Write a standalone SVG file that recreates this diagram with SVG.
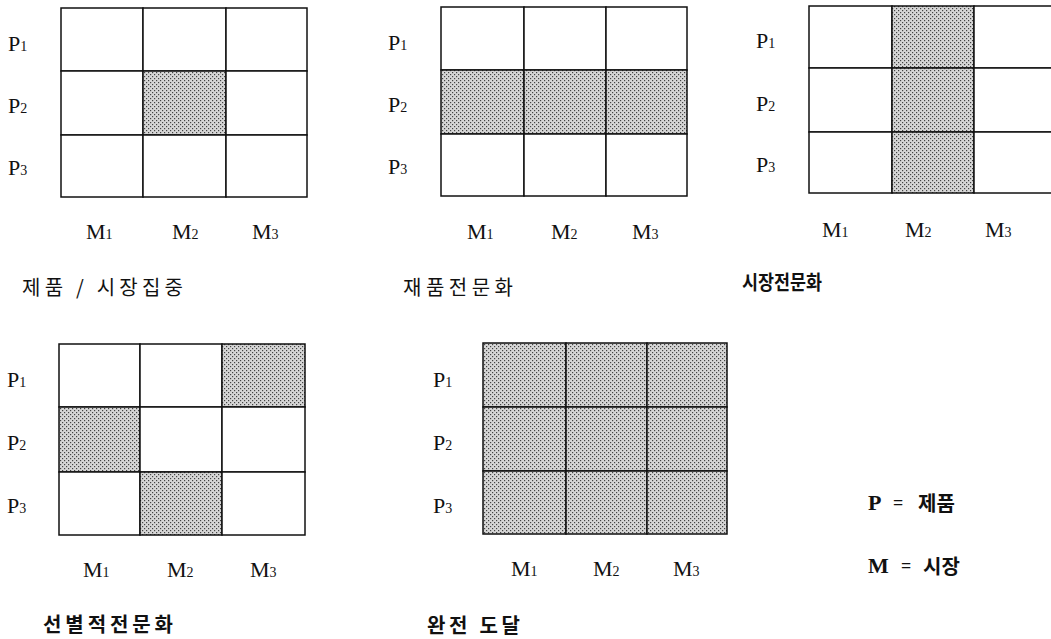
<svg xmlns="http://www.w3.org/2000/svg" width="1051" height="639" viewBox="0 0 1051 639">
<style>
.lbl{font-family:"Liberation Serif","DejaVu Serif",serif;font-size:22px;fill:#111}
.sub{font-size:14px}
.cap{font-family:"Noto Sans CJK KR","Noto Sans",sans-serif;font-size:20px;fill:#111}
.b{font-weight:bold}
.cell{stroke:#111;stroke-width:1.5}
.w{fill:#fff}
.s{fill:url(#dots)}
</style>
<defs>
<pattern id="dots" width="4" height="4" patternUnits="userSpaceOnUse">
<rect width="4" height="4" fill="#d6d6d6"/>
<rect x="0" y="0" width="1.2" height="1.2" fill="#444"/>
<rect x="2" y="2" width="1.2" height="1.2" fill="#444"/>
</pattern>
</defs>
<rect width="1051" height="639" fill="#fff"/>

<g id="grid1">
<rect class="cell w" x="61" y="8" width="82" height="63"/>
<rect class="cell w" x="143" y="8" width="83" height="63"/>
<rect class="cell w" x="226" y="8" width="81" height="63"/>
<rect class="cell w" x="61" y="71" width="82" height="64"/>
<rect class="cell s" x="143" y="71" width="83" height="64"/>
<rect class="cell w" x="226" y="71" width="81" height="64"/>
<rect class="cell w" x="61" y="135" width="82" height="62"/>
<rect class="cell w" x="143" y="135" width="83" height="62"/>
<rect class="cell w" x="226" y="135" width="81" height="62"/>
<text class="lbl" x="8" y="51">P<tspan class="sub">1</tspan></text>
<text class="lbl" x="8" y="113">P<tspan class="sub">2</tspan></text>
<text class="lbl" x="8" y="175">P<tspan class="sub">3</tspan></text>
<text class="lbl" x="86" y="239">M<tspan class="sub">1</tspan></text>
<text class="lbl" x="172" y="239">M<tspan class="sub">2</tspan></text>
<text class="lbl" x="252" y="239">M<tspan class="sub">3</tspan></text>
<text class="cap" x="22" y="295" textLength="161" lengthAdjust="spacing">제품 / 시장집중</text>
</g>

<g id="grid2">
<rect class="cell w" x="441" y="7" width="83" height="63"/>
<rect class="cell w" x="524" y="7" width="82" height="63"/>
<rect class="cell w" x="606" y="7" width="81" height="63"/>
<rect class="cell s" x="441" y="70" width="83" height="64"/>
<rect class="cell s" x="524" y="70" width="82" height="64"/>
<rect class="cell s" x="606" y="70" width="81" height="64"/>
<rect class="cell w" x="441" y="134" width="83" height="62"/>
<rect class="cell w" x="524" y="134" width="82" height="62"/>
<rect class="cell w" x="606" y="134" width="81" height="62"/>
<text class="lbl" x="388" y="50">P<tspan class="sub">1</tspan></text>
<text class="lbl" x="388" y="112">P<tspan class="sub">2</tspan></text>
<text class="lbl" x="388" y="174">P<tspan class="sub">3</tspan></text>
<text class="lbl" x="467" y="239">M<tspan class="sub">1</tspan></text>
<text class="lbl" x="551" y="239">M<tspan class="sub">2</tspan></text>
<text class="lbl" x="632" y="239">M<tspan class="sub">3</tspan></text>
<text class="cap" x="403" y="295" textLength="110" lengthAdjust="spacing">재품전문화</text>
</g>

<g id="grid3">
<rect class="cell w" x="809" y="6" width="83" height="62"/>
<rect class="cell s" x="892" y="6" width="82" height="62"/>
<rect class="cell w" x="974" y="6" width="82" height="62"/>
<rect class="cell w" x="809" y="68" width="83" height="64"/>
<rect class="cell s" x="892" y="68" width="82" height="64"/>
<rect class="cell w" x="974" y="68" width="82" height="64"/>
<rect class="cell w" x="809" y="132" width="83" height="61"/>
<rect class="cell s" x="892" y="132" width="82" height="61"/>
<rect class="cell w" x="974" y="132" width="82" height="61"/>
<text class="lbl" x="756" y="48">P<tspan class="sub">1</tspan></text>
<text class="lbl" x="756" y="111">P<tspan class="sub">2</tspan></text>
<text class="lbl" x="756" y="172">P<tspan class="sub">3</tspan></text>
<text class="lbl" x="822" y="237">M<tspan class="sub">1</tspan></text>
<text class="lbl" x="905" y="237">M<tspan class="sub">2</tspan></text>
<text class="lbl" x="985" y="237">M<tspan class="sub">3</tspan></text>
<text class="cap b" x="742" y="290" textLength="80" lengthAdjust="spacingAndGlyphs">시장전문화</text>
</g>

<g id="grid4">
<rect class="cell w" x="59" y="344" width="81" height="63"/>
<rect class="cell w" x="140" y="344" width="82" height="63"/>
<rect class="cell s" x="222" y="344" width="83" height="63"/>
<rect class="cell s" x="59" y="407" width="81" height="65"/>
<rect class="cell w" x="140" y="407" width="82" height="65"/>
<rect class="cell w" x="222" y="407" width="83" height="65"/>
<rect class="cell w" x="59" y="472" width="81" height="63"/>
<rect class="cell s" x="140" y="472" width="82" height="63"/>
<rect class="cell w" x="222" y="472" width="83" height="63"/>
<text class="lbl" x="7" y="387">P<tspan class="sub">1</tspan></text>
<text class="lbl" x="7" y="450">P<tspan class="sub">2</tspan></text>
<text class="lbl" x="7" y="513">P<tspan class="sub">3</tspan></text>
<text class="lbl" x="83" y="577">M<tspan class="sub">1</tspan></text>
<text class="lbl" x="167" y="577">M<tspan class="sub">2</tspan></text>
<text class="lbl" x="250" y="577">M<tspan class="sub">3</tspan></text>
<text class="cap b" x="43" y="632" textLength="130" lengthAdjust="spacing">선별적전문화</text>
</g>

<g id="grid5">
<rect class="cell s" x="483" y="343" width="83" height="64"/>
<rect class="cell s" x="566" y="343" width="81" height="64"/>
<rect class="cell s" x="647" y="343" width="80" height="64"/>
<rect class="cell s" x="483" y="407" width="83" height="64"/>
<rect class="cell s" x="566" y="407" width="81" height="64"/>
<rect class="cell s" x="647" y="407" width="80" height="64"/>
<rect class="cell s" x="483" y="471" width="83" height="63"/>
<rect class="cell s" x="566" y="471" width="81" height="63"/>
<rect class="cell s" x="647" y="471" width="80" height="63"/>
<text class="lbl" x="433" y="387">P<tspan class="sub">1</tspan></text>
<text class="lbl" x="433" y="450">P<tspan class="sub">2</tspan></text>
<text class="lbl" x="433" y="513">P<tspan class="sub">3</tspan></text>
<text class="lbl" x="511" y="576">M<tspan class="sub">1</tspan></text>
<text class="lbl" x="593" y="576">M<tspan class="sub">2</tspan></text>
<text class="lbl" x="673" y="576">M<tspan class="sub">3</tspan></text>
<text class="cap b" x="427" y="633" textLength="93" lengthAdjust="spacing">완전 도달</text>
</g>

<g id="legend">
<text class="lbl b" x="868" y="510">P</text>
<text class="lbl b" x="893" y="509" style="font-size:18px">=</text>
<text class="cap b" x="918" y="511">제품</text>
<text class="lbl b" x="868" y="573">M</text>
<text class="lbl b" x="901" y="572" style="font-size:18px">=</text>
<text class="cap b" x="923" y="574">시장</text>
</g>
<g id="connectors"></g>
</svg>
